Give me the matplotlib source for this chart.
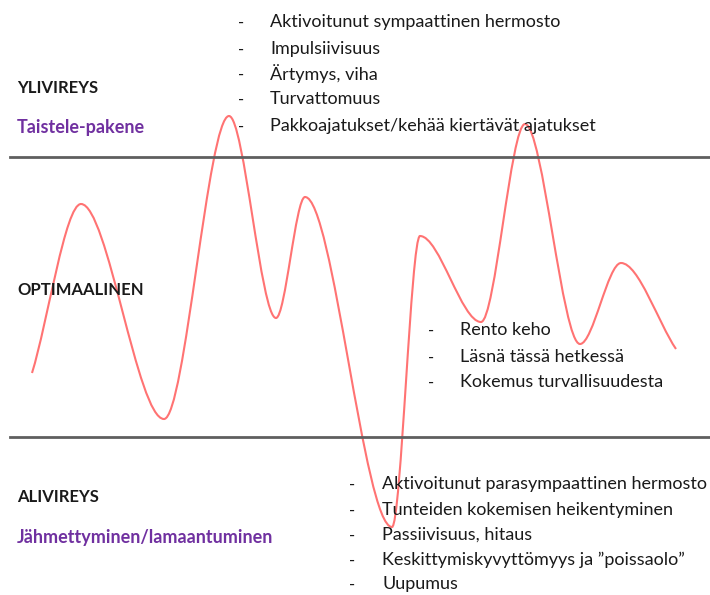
import matplotlib.pyplot as plt
from matplotlib.path import Path
from matplotlib.patches import PathPatch

plt.rcParams['font.family'] = ['Lato', 'DejaVu Sans']

# curve turning points, in picture units (x right, y down)
curve_x = [32, 81, 164, 229, 276, 305, 392, 420, 481, 525, 580, 621, 676]
curve_y = [373, 204, 419, 116, 318, 197, 527, 236, 322, 124, 344, 263, 349]

# zone borders
zone_lines = [157, 437]

# zone headings
zone_titles = ['YLIVIREYS', 'OPTIMAALINEN', 'ALIVIREYS']
zone_title_y = [88, 290, 497]
zone_sub = ['Taistele-pakene', 'Jähmettyminen/lamaantuminen']
zone_sub_y = [128, 537]

# bullet lists
top_items = ['Aktivoitunut sympaattinen hermosto', 'Impulsiivisuus', 'Ärtymys, viha',
             'Turvattomuus', 'Pakkoajatukset/kehää kiertävät ajatukset']
top_y = [22, 49, 74, 99, 126]
mid_items = ['Rento keho', 'Läsnä tässä hetkessä', 'Kokemus turvallisuudesta']
mid_y = [330, 357, 382]
low_items = ['Aktivoitunut parasympaattinen hermosto', 'Tunteiden kokemisen heikentyminen',
             'Passiivisuus, hitaus', 'Keskittymiskyvyttömyys ja ”poissaolo”', 'Uupumus']
low_y = [484, 510, 535, 560, 584]

fig = plt.figure(figsize=(7.1, 5.95), dpi=100)
ax = fig.add_axes([0, 0, 1, 1])
ax.set_xlim(0, 710)
ax.set_ylim(595, 0)
ax.axis('off')

for y in zone_lines:
    ax.plot([10, 710], [y, y], color='#5f5f5f', lw=2)

# smooth wave: cubic bezier between turning points
k = 0.32
verts = [(curve_x[0], curve_y[0])]
codes = [Path.MOVETO]
for i in range(len(curve_x) - 1):
    x0, y0 = curve_x[i], curve_y[i]
    x1, y1 = curve_x[i + 1], curve_y[i + 1]
    dx = x1 - x0
    c0y = y0 if i > 0 else y0 + (y1 - y0) * 0.3
    c1y = y1 if i < len(curve_x) - 2 else y1 - (y1 - y0) * 0.3
    verts += [(x0 + k * dx, c0y), (x1 - k * dx, c1y), (x1, y1)]
    codes += [Path.CURVE4] * 3
ax.add_patch(PathPatch(Path(verts, codes), fill=False, edgecolor='#ff7373', lw=1.5))

for t, y in zip(zone_titles, zone_title_y):
    ax.text(17, y, t, fontsize=12, fontweight='bold', color='#1a1a1a', va='center')
for t, y in zip(zone_sub, zone_sub_y):
    ax.text(17, y, t, fontsize=13, fontweight='bold', color='#7030a0', va='center')


def bullets(items, ys, xd, xt):
    for t, y in zip(items, ys):
        ax.text(xd, y + 1, '-', fontsize=12, color='#1a1a1a', va='center')
        ax.text(xt, y, t, fontsize=13, color='#1a1a1a', va='center')


bullets(top_items, top_y, 238, 270)
bullets(mid_items, mid_y, 428, 460)
bullets(low_items, low_y, 349, 382)

fig.savefig('out.png', dpi=100)
